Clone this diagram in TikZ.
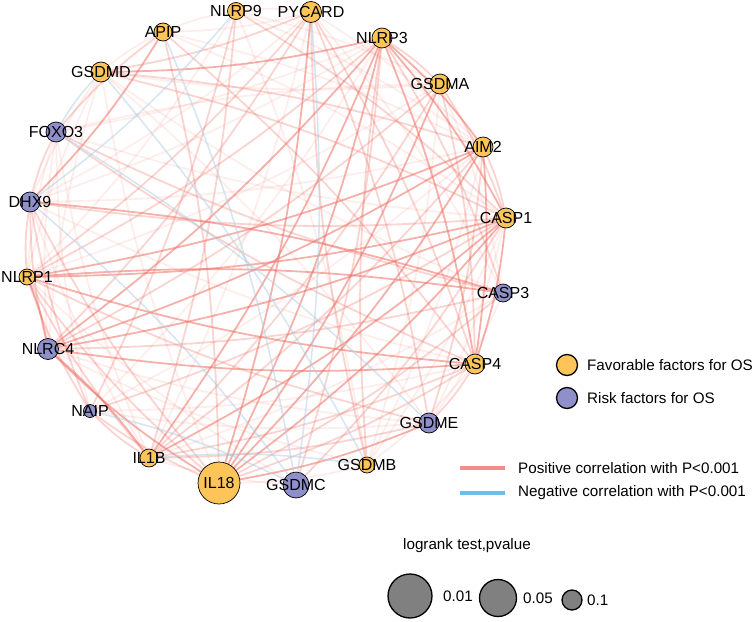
\documentclass[tikz,border=0pt]{standalone}
\usepackage{fontspec}
\setmainfont{Liberation Sans}
\usepackage{tikz}
\pgfdeclarelayer{edges}
\pgfsetlayers{edges,main}
\definecolor{myellow}{RGB}{253,196,90}
\definecolor{mpurple}{RGB}{143,143,201}
\definecolor{mred}{RGB}{238,112,100}
\definecolor{mblue}{RGB}{175,205,225}
\definecolor{mpink}{RGB}{245,140,140}
\definecolor{msky}{RGB}{110,190,235}
\definecolor{mgrey}{RGB}{128,128,128}
\tikzset{fav/.style = {circle, draw, fill=myellow, inner sep=0, line width=0.7}}
\tikzset{risk/.style = {circle, draw, fill=mpurple, inner sep=0, line width=0.7}}
\tikzset{lab/.style = {inner sep=0, font=\fontsize{16}{18}\selectfont}}
\tikzset{leg/.style = {anchor=west, inner sep=0, font=\fontsize{15.2}{18}\selectfont}}
\tikzset{corr/.style = {mred, line width=1.8, bend left=6}}
\tikzset{anti/.style = {mblue, line width=1.6, bend left=6, opacity=0.5}}
\tikzset{pval/.style = {circle, draw, fill=mgrey, inner sep=0, line width=1.3}}

\begin{document}
\begin{tikzpicture}[x=1pt, y=-1pt]
    \useasboundingbox (0, 0) rectangle (754, 621);

    \node [fav, minimum size=17, label={[lab]center:NLRP9}] (nlrp9) at (236, 11) {};
    \node [fav, minimum size=21, label={[lab]center:PYCARD}] (pycard) at (311, 12) {};
    \node [fav, minimum size=20, label={[lab]center:NLRP3}] (nlrp3) at (382, 38) {};
    \node [fav, minimum size=20, label={[lab]center:GSDMA}] (gsdma) at (440, 84) {};
    \node [fav, minimum size=20, label={[lab]center:AIM2}] (aim2) at (483, 147) {};
    \node [fav, minimum size=20, label={[lab]center:CASP1}] (casp1) at (506, 218) {};
    \node [risk, minimum size=18, label={[lab]center:CASP3}] (casp3) at (503, 293) {};
    \node [fav, minimum size=20, label={[lab]center:CASP4}] (casp4) at (475, 364) {};
    \node [risk, minimum size=20, label={[lab]center:GSDME}] (gsdme) at (429, 423) {};
    \node [fav, minimum size=16, label={[lab]center:GSDMB}] (gsdmb) at (367, 465) {};
    \node [risk, minimum size=26, label={[lab]center:GSDMC}] (gsdmc) at (296, 485) {};
    \node [fav, minimum size=42, label={[lab]center:IL18}] (il18) at (219, 483) {};
    \node [fav, minimum size=18, label={[lab]center:IL1B}] (il1b) at (149, 458) {};
    \node [risk, minimum size=13, label={[lab]center:NAIP}] (naip) at (90, 411) {};
    \node [risk, minimum size=21, label={[lab]center:NLRC4}] (nlrc4) at (48, 349) {};
    \node [fav, minimum size=16, label={[lab]center:NLRP1}] (nlrp1) at (27, 277) {};
    \node [risk, minimum size=20, label={[lab]center:DHX9}] (dhx9) at (30, 202) {};
    \node [risk, minimum size=20, label={[lab]center:FOXO3}] (foxo3) at (56, 132) {};
    \node [fav, minimum size=20, label={[lab]center:GSDMD}] (gsdmd) at (101, 72) {};
    \node [fav, minimum size=18, label={[lab]center:APIP}] (apip) at (163, 32) {};

    \begin{pgfonlayer}{edges}
      \foreach \a/\b in {nlrp3/nlrc4, nlrp3/il1b, nlrp3/il18, nlrp3/casp1, nlrp3/casp4, nlrp3/aim2, nlrp3/gsdmd,
                         aim2/nlrc4, aim2/nlrp1, aim2/il18, aim2/casp4, casp1/nlrc4, casp1/il18, casp1/il1b,
                         casp1/nlrp1, casp1/casp4, casp4/nlrp1, casp4/nlrc4, nlrp1/casp3, nlrp1/nlrc4,
                         dhx9/casp3, apip/dhx9, il18/nlrc4, pycard/il18, gsdma/il18, nlrc4/il1b, gsdme/il18}
        \draw [corr, opacity=0.55] (\a) to (\b);

      \foreach \a/\b in {nlrp3/gsdma, nlrp3/gsdmc, nlrp3/casp3, nlrp3/nlrp1, pycard/nlrp1, pycard/gsdme, pycard/casp4,
                         pycard/gsdmd, pycard/nlrc4, gsdma/casp4, gsdma/nlrc4, gsdma/il1b, gsdma/casp1, aim2/il1b,
                         aim2/casp1, aim2/gsdme, casp1/gsdmc, casp1/dhx9, casp1/naip, casp3/il18, casp3/nlrc4,
                         casp3/foxo3, casp4/il18, casp4/il1b, casp4/gsdme, casp4/foxo3, gsdme/nlrp1, gsdme/il1b,
                         gsdmb/nlrp3, gsdmb/pycard, il18/nlrp1, il18/naip, il18/dhx9, il1b/naip, il1b/nlrp1,
                         naip/nlrp1, naip/dhx9, nlrc4/dhx9, nlrp1/dhx9, dhx9/foxo3, foxo3/apip, gsdmd/casp1,
                         gsdmd/aim2, apip/casp4, apip/il18, nlrp9/il1b, nlrp9/naip, nlrp9/casp1}
        \draw [corr, opacity=0.3] (\a) to (\b);

      \foreach \a/\b in {nlrp9/pycard, nlrp9/gsdma, nlrp9/aim2, nlrp9/gsdmb, nlrp9/nlrp1, pycard/aim2, pycard/casp3,
                         pycard/dhx9, pycard/apip, pycard/il1b, nlrp3/naip, nlrp3/foxo3, nlrp3/dhx9, gsdma/gsdmd,
                         gsdma/nlrp1, gsdma/gsdmb, gsdma/casp3, aim2/dhx9, aim2/naip, aim2/gsdmb, casp1/gsdme,
                         casp1/gsdmb, casp1/foxo3, casp3/gsdme, casp3/il1b, casp3/gsdmd, casp4/gsdmb, casp4/naip,
                         casp4/dhx9, gsdme/nlrc4, gsdme/naip, gsdmb/il18, gsdmb/nlrc4, gsdmc/nlrp1, gsdmc/il1b,
                         il18/gsdmd, il1b/dhx9, il1b/foxo3, naip/foxo3, nlrc4/gsdmd, nlrc4/foxo3, nlrp1/gsdmd,
                         nlrp1/foxo3, dhx9/gsdmd, gsdmd/apip, apip/nlrp9, apip/aim2, apip/casp1, gsdmd/gsdme,
                         foxo3/gsdma}
        \draw [corr, opacity=0.12] (\a) to (\b);

      \foreach \a/\b in {apip/gsdmc, gsdmd/gsdmb, pycard/gsdmc, foxo3/gsdmd, nlrp9/dhx9, il1b/gsdmb, foxo3/gsdme,
                         dhx9/gsdmc, naip/gsdmc}
        \draw [anti] (\a) to (\b);
    \end{pgfonlayer}

    \node [fav, minimum size=21, line width=1.3] (favdot) at (567, 365) {};
    \node [leg] (favtxt) at (587, 365) {Favorable factors for OS};
    \node [risk, minimum size=21, line width=1.3] (riskdot) at (567, 398) {};
    \node [leg] (risktxt) at (587, 398) {Risk factors for OS};

    \coordinate (posa) at (460, 468);
    \coordinate (posb) at (505, 468);
    \draw [mpink, line width=3.5] (posa) -- (posb);
    \node [leg] (postxt) at (518, 468) {Positive correlation with P<0.001};
    \coordinate (nega) at (460, 493);
    \coordinate (negb) at (505, 493);
    \draw [msky, line width=3.5] (nega) -- (negb);
    \node [leg] (negtxt) at (518, 493) {Negative correlation with P<0.001};

    \node [leg] (logrank) at (403, 546) {logrank test,pvalue};
    \node [pval, minimum size=44] (p01) at (410, 596) {};
    \node [leg] (p01txt) at (443, 596) {0.01};
    \node [pval, minimum size=37] (p05) at (498, 598) {};
    \node [leg] (p05txt) at (523, 598) {0.05};
    \node [pval, minimum size=20] (p10) at (572, 600) {};
    \node [leg] (p10txt) at (587, 600) {0.1};
  \end{tikzpicture}
\end{document}
